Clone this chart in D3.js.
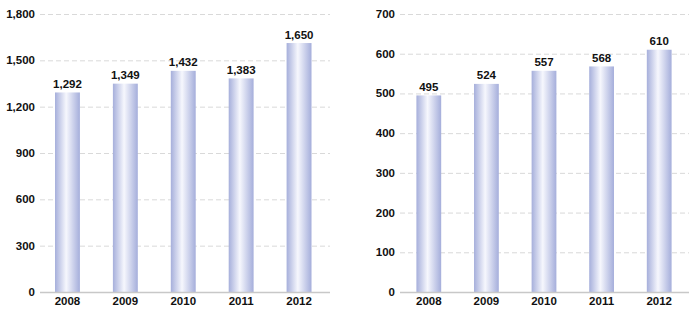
<!DOCTYPE html>
<html>
<head>
<meta charset="utf-8">
<script src="https://cdn.jsdelivr.net/npm/d3@7"></script>
<style>
  body { margin: 0; background: #fff; }
  svg text { font-family: "Liberation Sans", Arial, sans-serif; font-weight: bold; fill: #111; }
</style>
</head>
<body>
<script>
const years = ["2008", "2009", "2010", "2011", "2012"];

// left panel: bar heights as drawn, and the printed labels
const leftValues = [1292, 1349, 1432, 1383, 1612];
const leftLabels = ["1,292", "1,349", "1,432", "1,383", "1,650"];
const leftTicks = [0, 300, 600, 900, 1200, 1500, 1800];

// right panel
const rightValues = [495, 524, 557, 568, 610];
const rightLabels = ["495", "524", "557", "568", "610"];
const rightTicks = [0, 100, 200, 300, 400, 500, 600, 700];

const width = 700, height = 318;
const plotTop = 14, plotBottom = 292;

const svg = d3.select("body").append("svg")
    .attr("width", width)
    .attr("height", height);

const grad = svg.append("defs").append("linearGradient")
    .attr("id", "barGrad")
    .attr("x1", "0%").attr("x2", "100%")
    .attr("y1", "0%").attr("y2", "0%");
grad.append("stop").attr("offset", "0%").attr("stop-color", "#a6afdb");
grad.append("stop").attr("offset", "45%").attr("stop-color", "#f6f7fd");
grad.append("stop").attr("offset", "100%").attr("stop-color", "#a5aedb");

function panel(values, labels, ticks, x0, x1, gridX0, gridX1) {
    const xScale = d3.scaleBand()
        .domain(years)
        .range([x0, x1])
        .paddingInner(0.57)
        .paddingOuter(0.285);

    const yScale = d3.scaleLinear()
        .domain([0, d3.max(ticks)])
        .range([plotBottom, plotTop]);

    const g = svg.append("g");

    // dashed gridlines
    g.selectAll(".grid")
        .data(ticks.filter(t => t > 0))
        .enter()
        .append("line")
        .attr("x1", gridX0)
        .attr("x2", gridX1)
        .attr("y1", d => yScale(d) + 0.5)
        .attr("y2", d => yScale(d) + 0.5)
        .attr("stroke", "#d9d9d9")
        .attr("stroke-dasharray", "5,3");

    // y tick labels
    g.selectAll(".ylab")
        .data(ticks)
        .enter()
        .append("text")
        .attr("x", gridX0 - 5)
        .attr("y", d => yScale(d) + 4)
        .attr("text-anchor", "end")
        .attr("font-size", "11.5px")
        .text(d => d3.format(",")(d));

    g.selectAll("rect")
        .data(values)
        .enter()
        .append("rect")
        .attr("x", (d, i) => xScale(years[i]))
        .attr("y", d => yScale(d))
        .attr("width", xScale.bandwidth())
        .attr("height", d => plotBottom - yScale(d))
        .attr("fill", "url(#barGrad)");

    g.selectAll(".vlab")
        .data(values)
        .enter()
        .append("text")
        .attr("x", (d, i) => xScale(years[i]) + xScale.bandwidth() / 2)
        .attr("y", d => yScale(d) - 4.5)
        .attr("text-anchor", "middle")
        .attr("font-size", "11.5px")
        .text((d, i) => labels[i]);

    // baseline
    g.append("line")
        .attr("x1", gridX0)
        .attr("x2", gridX1)
        .attr("y1", plotBottom + 0.5)
        .attr("y2", plotBottom + 0.5)
        .attr("stroke", "#c8c8c8")
        .attr("stroke-width", 1.5);

    g.selectAll(".xlab")
        .data(years)
        .enter()
        .append("text")
        .attr("x", d => xScale(d) + xScale.bandwidth() / 2)
        .attr("y", plotBottom + 13)
        .attr("text-anchor", "middle")
        .attr("font-size", "11.5px")
        .text(d => d);
}

panel(leftValues, leftLabels, leftTicks, 38.5, 328, 40, 330);
panel(rightValues, rightLabels, rightTicks, 400, 688, 400, 689);
</script>
</body>
</html>
